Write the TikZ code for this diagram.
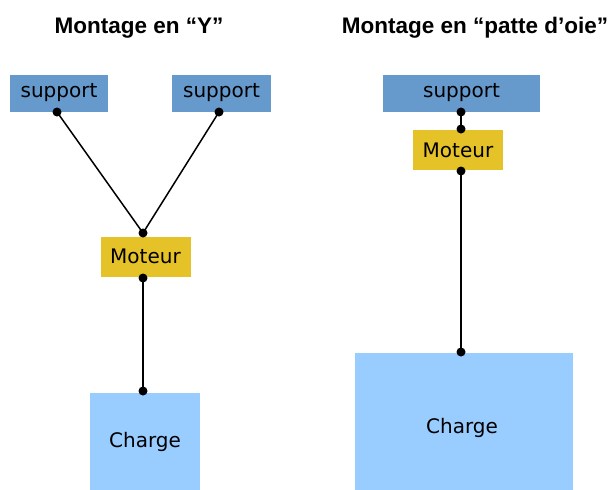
\documentclass[tikz,border=0pt]{standalone}
\usepackage{fontspec}
\setmainfont{DejaVu Sans}
\newfontfamily\titlefont{Liberation Sans}
\usetikzlibrary{positioning,calc}
\definecolor{supportblue}{RGB}{102,153,204}
\definecolor{moteuryellow}{RGB}{230,194,41}
\definecolor{chargeblue}{RGB}{153,204,255}

\tikzset{
  bloc/.style={inner sep=0pt, font=\fontsize{20}{24}\selectfont},
  support/.style={bloc, fill=supportblue, minimum height=37pt},
  moteur/.style={bloc, fill=moteuryellow, minimum width=90pt, minimum height=40pt},
  charge/.style={bloc, fill=chargeblue},
  titre/.style={anchor=base, font=\titlefont\bfseries\fontsize{22.5}{26}\selectfont},
  lien/.style={line width=1.5pt},
  attache/.style={circle, fill=black, inner sep=0pt, minimum size=9pt},
}

\begin{document}
\begin{tikzpicture}[x=1pt,y=-1pt]
  \useasboundingbox (0,0) rectangle (616,490);

  % Titles
  \node[titre] (tY) at (139,33) {Montage en “Y”};
  \node[titre] (tP) at (475,33) {Montage en “patte d’oie”};

  % Montage en Y
  \node[support, minimum width=98pt] (s1) at (59,93) {support};
  \node[support, minimum width=99pt] (s2) at (221.5,93) {support};
  \node[moteur] (m1) at (145.5,256.5) {Moteur};
  \node[charge, minimum width=110pt, minimum height=97pt] (c1) at (145,441.5) {Charge};

  \node[attache] (s1a) at (57,112) {};
  \node[attache] (s2a) at (219,112) {};
  \node[attache] (m1h) at (143,233) {};
  \node[attache] (m1b) at (143,278) {};
  \node[attache] (c1a) at (143,391) {};

  \draw[lien] (s1a.center) -- (m1h.center);
  \draw[lien] (s2a.center) -- (m1h.center);
  \draw[lien] (m1b.center) -- (c1a.center);

  % Montage en patte d'oie
  \node[support, minimum width=157pt] (s3) at (461.5,93) {support};
  \node[moteur] (m2) at (458,150) {Moteur};
  \node[charge, minimum width=218pt, minimum height=137pt] (c2) at (464,421.5) {};
  \node[bloc] (c2t) at (462,428) {Charge};

  \node[attache] (s3a) at (461,112) {};
  \node[attache] (m2h) at (461,129) {};
  \node[attache] (m2b) at (461,171) {};
  \node[attache] (c2a) at (461,352) {};

  \draw[lien] (s3a.center) -- (m2h.center);
  \draw[lien] (m2b.center) -- (c2a.center);
\end{tikzpicture}
\end{document}
